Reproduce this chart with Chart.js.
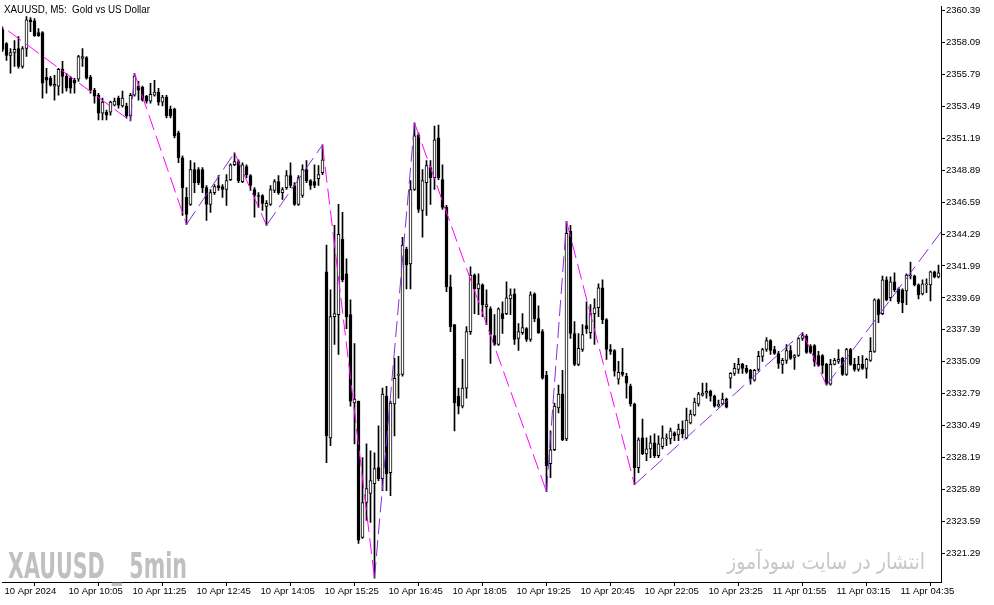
<!DOCTYPE html>
<html>
<head>
<meta charset="UTF-8">
<title>XAUUSD M5</title>
<script src="https://cdn.jsdelivr.net/npm/chart.js"></script>
<style>
  body { margin: 0; background: #fff; }
  #wrap { position: relative; width: 994px; height: 605px; overflow: hidden; }
  .lbl { position: absolute; white-space: pre; transform-origin: 0 0; line-height: 1; }
  #title { left: 4px; top: 4px; font: 10px "Liberation Sans", Arial, sans-serif; color: #000; }
  #wm1 { left: 8px; top: 546px; font: bold 35px "Liberation Sans Narrow", "DejaVu Sans Condensed", "Liberation Sans", sans-serif; color: #c0c0c0; }
  #wm2 { left: 727px; top: 549px; font: 22px "DejaVu Sans", sans-serif; color: #c8c8c8; direction: rtl; }
</style>
</head>
<body>
<div id="wrap">
  <canvas id="chart" width="994" height="605"></canvas>
  <div class="lbl" id="title">XAUUSD, M5:  Gold vs US Dollar</div>
  <div class="lbl" id="wm1">XAUUSD _ 5min</div>
  <div class="lbl" id="wm2">انتشار در سایت سودآموز</div>
</div>
<script>
// M5 candles, 10 Apr 2024 08:45 -> 11 Apr 05:15
const openArr = [
  2359.03, 2358.03, 2357.17, 2357.38, 2357.67, 2356.38, 2357.67, 2359.74, 2359.67, 2358.81,
  2358.81, 2355.59, 2355.52, 2354.95, 2354.95, 2356.16, 2355.66, 2355.52, 2355.38, 2355.45,
  2356.95, 2357.02, 2355.59, 2354.66, 2354.30, 2353.01, 2353.08, 2353.08, 2353.59, 2354.09,
  2353.52, 2353.52, 2352.80, 2354.30, 2354.95, 2354.87, 2354.23, 2353.87, 2354.30, 2354.52,
  2353.80, 2354.16, 2353.30, 2353.30, 2351.58, 2349.79, 2346.93, 2346.43, 2348.93, 2348.93,
  2348.93, 2347.64, 2346.43, 2347.28, 2347.79, 2347.71, 2347.50, 2348.22, 2349.29, 2349.51,
  2348.07, 2349.15, 2348.50, 2347.50, 2347.07, 2347.07, 2346.28, 2346.43, 2347.43, 2348.07,
  2347.28, 2347.64, 2348.50, 2347.79, 2346.43, 2347.07, 2348.93, 2348.14, 2348.07, 2348.29,
  2348.72, 2341.56, 2329.60, 2338.34, 2338.48, 2343.92, 2341.42, 2338.48, 2332.11, 2332.25,
  2322.43, 2324.94, 2325.59, 2326.30, 2327.45, 2326.66, 2332.61, 2327.09, 2332.04, 2334.11,
  2334.18, 2343.21, 2342.14, 2347.50, 2351.44, 2346.00, 2348.00, 2349.08, 2348.36, 2351.22,
  2348.22, 2346.21, 2340.48, 2337.76, 2332.61, 2331.89, 2333.18, 2337.26, 2341.34, 2340.34,
  2340.63, 2339.05, 2338.91, 2336.98, 2336.33, 2338.55, 2338.55, 2339.62, 2339.98, 2336.76,
  2337.19, 2337.48, 2336.69, 2339.98, 2338.19, 2337.26, 2334.11, 2327.74, 2328.74, 2331.75,
  2332.75, 2329.53, 2344.49, 2337.12, 2334.90, 2335.97, 2337.69, 2337.19, 2338.55, 2338.98,
  2340.41, 2338.12, 2335.97, 2335.90, 2333.83, 2334.33, 2334.04, 2333.32, 2332.04, 2327.45,
  2329.60, 2328.45, 2328.81, 2329.24, 2328.31, 2328.96, 2329.53, 2329.53, 2329.96, 2329.82,
  2330.24, 2329.60, 2330.67, 2331.25, 2332.04, 2332.68, 2332.82, 2332.96, 2332.61, 2331.89,
  2332.04, 2332.39, 2333.90, 2334.25, 2334.54, 2334.90, 2334.61, 2334.47, 2333.75, 2334.54,
  2335.47, 2335.97, 2336.62, 2335.97, 2335.68, 2334.90, 2335.18, 2335.90, 2335.40, 2335.54,
  2336.76, 2336.91, 2336.19, 2336.26, 2335.54, 2335.54, 2334.90, 2333.47, 2334.90, 2335.11,
  2335.33, 2334.18, 2335.97, 2334.90, 2334.54, 2334.90, 2334.61, 2335.18, 2335.83, 2339.55,
  2338.55, 2340.99, 2339.70, 2340.84, 2340.34, 2340.27, 2340.20, 2341.27, 2341.27, 2340.63,
  2339.98, 2340.63, 2340.63, 2341.56, 2341.20
];
const highArr = [
  2359.17, 2358.10, 2357.67, 2358.24, 2358.53, 2357.81, 2359.96, 2359.89, 2359.82, 2359.10,
  2358.88, 2356.24, 2355.66, 2355.73, 2356.24, 2356.74, 2355.88, 2355.66, 2355.52, 2357.17,
  2357.67, 2357.09, 2355.73, 2354.80, 2354.44, 2354.09, 2353.23, 2353.87, 2354.09, 2354.23,
  2354.59, 2353.73, 2354.44, 2355.88, 2355.30, 2354.95, 2354.30, 2355.16, 2355.38, 2354.80,
  2354.30, 2354.30, 2353.52, 2353.37, 2351.72, 2349.93, 2347.64, 2349.58, 2349.43, 2349.08,
  2349.08, 2347.79, 2347.50, 2347.86, 2348.50, 2347.86, 2348.57, 2349.36, 2350.15, 2349.65,
  2349.43, 2349.29, 2348.57, 2347.64, 2347.28, 2347.14, 2346.71, 2347.79, 2348.22, 2348.50,
  2347.64, 2348.86, 2349.43, 2348.00, 2348.50, 2349.29, 2349.58, 2348.22, 2349.29, 2349.22,
  2350.72, 2343.49, 2340.27, 2344.92, 2346.43, 2345.85, 2342.51, 2339.55, 2336.40, 2332.25,
  2328.17, 2329.17, 2328.67, 2328.53, 2330.46, 2333.18, 2333.32, 2332.25, 2335.33, 2335.47,
  2344.06, 2343.35, 2348.14, 2352.30, 2351.58, 2348.93, 2349.58, 2349.58, 2352.08, 2352.15,
  2349.29, 2346.36, 2341.34, 2337.76, 2333.18, 2335.26, 2337.62, 2341.92, 2341.42, 2341.42,
  2340.70, 2340.27, 2339.05, 2338.48, 2338.98, 2339.41, 2340.84, 2340.34, 2340.34, 2337.83,
  2338.55, 2337.55, 2340.13, 2340.06, 2339.12, 2337.41, 2334.40, 2330.10, 2332.11, 2333.40,
  2334.47, 2345.21, 2344.92, 2337.98, 2337.12, 2337.76, 2339.41, 2339.20, 2339.62, 2340.70,
  2340.99, 2338.19, 2336.33, 2335.97, 2335.11, 2336.05, 2334.25, 2333.47, 2332.11, 2329.60,
  2330.96, 2329.60, 2329.74, 2329.89, 2329.74, 2330.46, 2329.89, 2330.31, 2330.03, 2330.60,
  2330.82, 2331.75, 2331.60, 2332.46, 2332.89, 2333.54, 2333.54, 2333.04, 2332.68, 2332.32,
  2332.82, 2332.46, 2334.30, 2334.97, 2335.33, 2334.97, 2334.83, 2334.54, 2334.54, 2335.83,
  2336.05, 2336.83, 2336.69, 2336.19, 2335.83, 2335.33, 2336.33, 2336.26, 2335.61, 2336.83,
  2337.19, 2337.05, 2336.33, 2336.33, 2335.83, 2335.61, 2334.97, 2335.26, 2335.33, 2335.97,
  2335.40, 2336.05, 2336.05, 2335.33, 2335.47, 2335.54, 2335.33, 2336.83, 2339.62, 2339.62,
  2341.27, 2341.20, 2341.20, 2341.49, 2340.41, 2340.34, 2341.42, 2342.28, 2341.34, 2340.70,
  2340.99, 2341.06, 2341.63, 2341.63, 2342.06
];
const lowArr = [
  2357.45, 2356.81, 2355.88, 2356.38, 2356.24, 2356.24, 2357.09, 2358.88, 2358.53, 2358.53,
  2354.09, 2354.44, 2354.95, 2353.94, 2354.30, 2354.44, 2354.59, 2354.44, 2354.44, 2355.30,
  2356.38, 2355.45, 2354.44, 2353.73, 2352.51, 2352.51, 2352.51, 2352.87, 2353.52, 2353.37,
  2353.44, 2352.66, 2352.44, 2354.23, 2353.94, 2353.87, 2353.73, 2353.73, 2354.23, 2353.59,
  2353.52, 2352.66, 2352.66, 2351.22, 2349.43, 2345.64, 2344.99, 2346.36, 2347.28, 2347.86,
  2347.28, 2345.28, 2345.85, 2347.14, 2347.43, 2346.93, 2346.36, 2348.14, 2349.22, 2348.00,
  2348.00, 2348.36, 2347.43, 2345.50, 2346.21, 2346.00, 2344.92, 2346.36, 2347.28, 2347.14,
  2346.78, 2347.50, 2347.64, 2346.36, 2346.36, 2346.93, 2348.00, 2347.50, 2347.64, 2347.79,
  2348.57, 2327.81, 2329.03, 2336.33, 2335.61, 2340.84, 2337.48, 2331.89, 2329.17, 2322.00,
  2322.36, 2323.65, 2323.51, 2319.49, 2326.52, 2325.80, 2325.80, 2325.44, 2329.74, 2332.46,
  2334.04, 2340.34, 2340.34, 2347.43, 2345.85, 2344.06, 2345.64, 2346.43, 2347.50, 2348.22,
  2346.07, 2340.13, 2337.26, 2330.10, 2331.32, 2331.75, 2332.46, 2337.05, 2338.55, 2338.48,
  2338.34, 2337.76, 2334.97, 2336.26, 2336.26, 2337.12, 2338.48, 2338.48, 2336.33, 2335.90,
  2337.05, 2336.55, 2336.55, 2337.98, 2337.12, 2333.83, 2325.73, 2326.73, 2328.67, 2331.39,
  2329.39, 2329.39, 2336.76, 2334.80, 2334.80, 2335.83, 2337.12, 2336.76, 2336.33, 2338.34,
  2337.83, 2335.26, 2335.61, 2334.04, 2333.47, 2334.04, 2332.46, 2331.89, 2326.23, 2327.09,
  2328.38, 2327.95, 2328.17, 2328.17, 2328.17, 2328.81, 2329.03, 2329.17, 2329.39, 2329.39,
  2329.60, 2329.53, 2330.60, 2331.18, 2331.89, 2332.61, 2332.46, 2332.25, 2331.82, 2331.82,
  2331.98, 2331.75, 2333.18, 2334.11, 2334.25, 2334.25, 2334.25, 2333.47, 2333.68, 2334.40,
  2335.11, 2335.83, 2335.61, 2335.61, 2334.61, 2334.25, 2334.97, 2335.26, 2334.54, 2335.47,
  2336.62, 2335.68, 2335.68, 2334.76, 2334.76, 2334.25, 2333.40, 2333.40, 2334.85, 2334.97,
  2334.11, 2334.11, 2334.83, 2334.40, 2334.40, 2334.54, 2333.90, 2335.11, 2335.76, 2337.90,
  2338.48, 2339.48, 2339.48, 2340.13, 2339.27, 2338.62, 2339.20, 2341.06, 2340.56, 2339.62,
  2339.91, 2340.06, 2339.48, 2341.13, 2341.13
];
const closeArr = [
  2357.60, 2357.17, 2357.38, 2357.60, 2356.38, 2357.67, 2359.74, 2359.60, 2358.60, 2358.60,
  2355.16, 2355.38, 2355.02, 2355.09, 2356.16, 2355.66, 2354.80, 2354.80, 2355.16, 2357.09,
  2357.09, 2355.52, 2354.66, 2354.23, 2353.01, 2353.80, 2352.87, 2353.80, 2353.87, 2353.59,
  2354.09, 2352.80, 2354.30, 2355.66, 2354.66, 2353.94, 2353.87, 2354.37, 2354.52, 2353.80,
  2354.16, 2352.80, 2352.80, 2351.37, 2349.79, 2347.64, 2345.71, 2348.93, 2348.00, 2348.00,
  2347.64, 2346.43, 2347.28, 2347.71, 2347.64, 2347.50, 2348.14, 2349.29, 2349.51, 2348.14,
  2349.29, 2348.57, 2347.79, 2347.07, 2347.00, 2346.50, 2346.50, 2347.50, 2348.07, 2347.28,
  2347.50, 2348.50, 2347.79, 2346.43, 2348.36, 2348.93, 2348.14, 2347.79, 2347.79, 2348.57,
  2349.65, 2329.74, 2338.34, 2338.55, 2344.28, 2340.99, 2338.34, 2332.25, 2332.39, 2322.22,
  2324.94, 2325.95, 2326.52, 2327.38, 2326.66, 2332.75, 2327.02, 2332.11, 2333.90, 2334.18,
  2343.49, 2342.06, 2347.50, 2351.37, 2346.07, 2348.14, 2349.22, 2348.36, 2351.08, 2348.36,
  2346.21, 2340.48, 2337.62, 2332.11, 2331.89, 2333.18, 2337.26, 2341.34, 2340.34, 2340.70,
  2339.20, 2339.20, 2337.05, 2336.33, 2338.91, 2338.19, 2339.70, 2339.91, 2336.69, 2337.26,
  2337.55, 2336.69, 2339.91, 2338.19, 2337.19, 2333.90, 2327.59, 2328.74, 2331.89, 2332.75,
  2329.46, 2344.35, 2337.12, 2334.90, 2336.05, 2337.05, 2337.48, 2338.55, 2338.98, 2340.41,
  2338.12, 2335.97, 2335.83, 2334.40, 2334.33, 2334.18, 2333.54, 2332.04, 2327.45, 2329.46,
  2328.45, 2328.81, 2329.24, 2328.31, 2329.17, 2329.60, 2329.60, 2330.10, 2329.74, 2330.24,
  2329.89, 2330.89, 2331.32, 2332.18, 2332.75, 2332.82, 2332.96, 2332.61, 2331.89, 2332.04,
  2332.39, 2331.82, 2334.25, 2334.61, 2334.90, 2334.61, 2334.33, 2333.83, 2334.47, 2335.47,
  2335.97, 2336.62, 2335.90, 2335.68, 2334.97, 2335.18, 2335.90, 2335.33, 2335.54, 2336.76,
  2336.98, 2335.76, 2335.76, 2335.11, 2334.83, 2334.83, 2333.47, 2334.90, 2335.18, 2335.26,
  2334.18, 2335.97, 2334.90, 2334.54, 2334.90, 2334.61, 2335.26, 2335.83, 2339.55, 2338.48,
  2340.99, 2339.55, 2340.84, 2340.27, 2339.41, 2339.34, 2341.34, 2341.34, 2340.63, 2339.91,
  2340.70, 2340.70, 2341.56, 2341.20, 2341.49
];

// ZigZag pivots (bar index, price)
const zzIndex = [-3, 32, 33, 46, 58, 66, 80, 93, 103, 136, 141, 158, 200, 206, 238];
const zzPrice = [2359.88, 2352.44, 2355.88, 2344.99, 2350.15, 2344.92, 2350.72, 2319.49,
                 2352.30, 2325.73, 2345.21, 2326.23, 2337.19, 2333.40, 2345.74];

const timeLabels = ['10 Apr 2024', '10 Apr 10:05', '10 Apr 11:25', '10 Apr 12:45', '10 Apr 14:05',
  '10 Apr 15:25', '10 Apr 16:45', '10 Apr 18:05', '10 Apr 19:25', '10 Apr 20:45', '10 Apr 22:05',
  '10 Apr 23:25', '11 Apr 01:55', '11 Apr 03:15', '11 Apr 04:35'];
const priceTicks = [2360.39, 2358.09, 2355.79, 2353.49, 2351.19, 2348.89, 2346.59, 2344.29, 2341.99,
  2339.69, 2337.39, 2335.09, 2332.79, 2330.49, 2328.19, 2325.89, 2323.59, 2321.29];

const tickIdx = timeLabels.map((t, k) => k * 16); // a label every 16 bars
const axisFont = { family: '"Liberation Sans", Arial, sans-serif', size: 9.5 };

const wickData = lowArr.map((l, i) => ({ x: i, y: [l, highArr[i]] }));
const bodyData = openArr.map((o, i) => ({ x: i, y: [o, closeArr[i]] }));
const bodyFill = openArr.map((o, i) => closeArr[i] >= o ? '#ffffff' : '#000000');
const zzData = zzIndex.map((x, k) => ({ x: x, y: zzPrice[k] }));

new Chart(document.getElementById('chart'), {
  type: 'bar',
  data: {
    datasets: [
      {
        type: 'line', data: zzData, order: 1,
        borderColor: '#ff00ff', borderWidth: 1, borderDash: [16, 6],
        pointRadius: 0, fill: false, tension: 0,
        segment: { borderColor: c => c.p1.parsed.y > c.p0.parsed.y ? '#8a2be2' : '#ff00ff' }
      },
      {
        data: bodyData, order: 2, grouped: false,
        backgroundColor: bodyFill, borderColor: '#000', borderWidth: 1, borderSkipped: false,
        barThickness: 3, minBarLength: 1
      },
      {
        data: wickData, order: 3, grouped: false,
        backgroundColor: '#000', borderWidth: 0, barThickness: 1
      }
    ]
  },
  options: {
    responsive: false,
    animation: false,
    devicePixelRatio: 1,
    events: [],
    layout: { padding: { left: 2, top: 3, right: 0, bottom: 0 }, autoPadding: false },
    plugins: { legend: { display: false }, tooltip: { enabled: false } },
    scales: {
      x: {
        type: 'linear', min: -0.125, max: 234.625, offset: false,
        afterBuildTicks: s => { s.ticks = tickIdx.map(v => ({ value: v })); },
        afterFit: s => { s.height = 23; },
        grid: { drawOnChartArea: false, drawTicks: true, tickLength: 4, color: '#000' },
        border: { display: true, color: '#000' },
        ticks: {
          autoSkip: false, maxRotation: 0, align: 'start', labelOffset: 2, padding: 0,
          color: '#000', font: axisFont,
          callback: v => timeLabels[tickIdx.indexOf(v)]
        }
      },
      y: {
        position: 'right', min: 2319.21, max: 2360.68,
        afterBuildTicks: s => { s.ticks = priceTicks.map(v => ({ value: v })); },
        afterFit: s => { s.width = 53; },
        grid: { drawOnChartArea: false, drawTicks: true, tickLength: 4, color: '#000' },
        border: { display: true, color: '#000' },
        ticks: { padding: 1, color: '#000', font: axisFont, callback: v => v.toFixed(2) }
      }
    }
  }
});

// squeeze the overlay texts to the widths they have in the picture
function fit(id, w) {
  const el = document.getElementById(id);
  const r = el.getBoundingClientRect().width;
  el.style.transform = 'scaleX(' + (w / r) + ')';
}
fit('title', 146);
fit('wm1', 179);
fit('wm2', 198);
</script>
</body>
</html>
